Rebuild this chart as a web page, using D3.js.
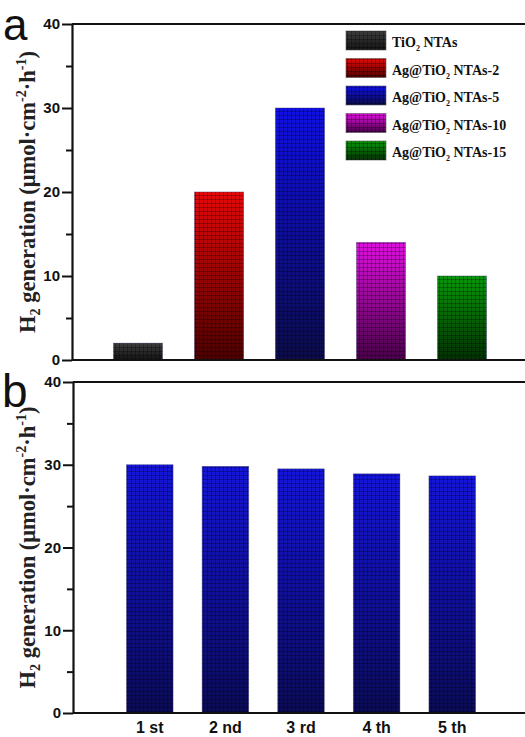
<!DOCTYPE html>
<html>
<head>
<meta charset="utf-8">
<script src="https://cdn.jsdelivr.net/npm/d3@7"></script>
<style>
  body { margin: 0; background: #fff; }
  svg { display: block; }
</style>
</head>
<body>
<div id="vis"></div>
<script>
// data
const SAMPLES = ["TiO2 NTAs", "Ag@TiO2 NTAs-2", "Ag@TiO2 NTAs-5", "Ag@TiO2 NTAs-10", "Ag@TiO2 NTAs-15"];
const SAMPLE_VALUES = [2, 20, 30, 14, 10];
const CYCLES = ["1 st", "2 nd", "3 rd", "4 th", "5 th"];
const CYCLE_VALUES = [30, 29.8, 29.5, 28.9, 28.65];
const MAJOR_TICKS = [0, 10, 20, 30, 40];
const MINOR_TICKS = [5, 15, 25, 35];

// gradient colours (top, bottom) for each sample
const SAMPLE_COLORS = [
  ["#3e3e3e", "#141414"],
  ["#e80808", "#4a0000"],
  ["#1010e6", "#0c0c48"],
  ["#e010e0", "#480048"],
  ["#089808", "#033003"]
];
const CYCLE_COLOR = ["#1515dc", "#0b0b55"];

const FRAME_WIDTH = 525;
const FRAME_HEIGHT = 737;

const SVG = d3.select("#vis")
  .append("svg")
  .attr("width", FRAME_WIDTH)
  .attr("height", FRAME_HEIGHT);

const DEFS = SVG.append("defs");

// fine mesh that sits on top of every bar
DEFS.append("pattern")
  .attr("id", "mesh")
  .attr("patternUnits", "userSpaceOnUse")
  .attr("width", 4)
  .attr("height", 4)
  .append("path")
  .attr("d", "M3.5 0 V4 M0 3.5 H4")
  .attr("stroke", "rgba(0,0,0,0.28)")
  .attr("stroke-width", 1);

function addGradient(id, pair) {
  const g = DEFS.append("linearGradient")
    .attr("id", id)
    .attr("x1", 0).attr("y1", 0)
    .attr("x2", 0).attr("y2", 1);
  g.append("stop").attr("offset", "0%").attr("stop-color", pair[0]);
  g.append("stop").attr("offset", "100%").attr("stop-color", pair[1]);
}
SAMPLE_COLORS.forEach((c, i) => addGradient("grad" + i, c));
addGradient("gradCycle", CYCLE_COLOR);

// draws one panel: y axis, frame lines, bars
function make_panel(opts) {
  const Y_SCALE = d3.scaleLinear()
    .domain([0, 40])
    .range([opts.bottom, opts.top]);

  const X_SCALE = d3.scaleBand()
    .domain(opts.cats)
    .range(opts.xRange)
    .paddingInner(opts.pad)
    .paddingOuter(opts.pad / 2);

  const G = SVG.append("g");

  // bars
  const bars = G.selectAll(".bar")
    .data(opts.values)
    .enter();

  bars.append("rect")
    .attr("x", (d, i) => X_SCALE(opts.cats[i]))
    .attr("y", (d) => Y_SCALE(d))
    .attr("width", X_SCALE.bandwidth())
    .attr("height", (d) => opts.bottom - Y_SCALE(d))
    .attr("fill", (d, i) => "url(#" + opts.grad(i) + ")")
    .attr("stroke", "rgba(60,60,110,0.55)")
    .attr("stroke-width", 0.8);

  bars.append("rect")
    .attr("x", (d, i) => X_SCALE(opts.cats[i]))
    .attr("y", (d) => Y_SCALE(d))
    .attr("width", X_SCALE.bandwidth())
    .attr("height", (d) => opts.bottom - Y_SCALE(d))
    .attr("fill", "url(#mesh)");

  // minor ticks
  G.append("g")
    .attr("transform", `translate(${opts.left},0)`)
    .call(d3.axisLeft(Y_SCALE).tickValues(MINOR_TICKS).tickSize(6).tickFormat(""))
    .call((a) => a.select(".domain").remove())
    .call((a) => a.selectAll("line").attr("stroke-width", 2).attr("stroke", "#111"));

  // major ticks + labels
  G.append("g")
    .attr("transform", `translate(${opts.left},0)`)
    .call(d3.axisLeft(Y_SCALE).tickValues(MAJOR_TICKS).tickSize(10).tickSizeOuter(0).tickPadding(2))
    .call((a) => a.select(".domain").attr("stroke-width", 2.2).attr("stroke", "#111"))
    .call((a) => a.selectAll("line").attr("stroke-width", 2).attr("stroke", "#111"))
    .call((a) => a.selectAll("text")
      .attr("font-family", "Liberation Sans, Arial, sans-serif")
      .attr("font-weight", "bold")
      .attr("font-size", 15)
      .attr("fill", "#111"));

  // top and bottom frame lines
  G.append("line")
    .attr("x1", opts.left).attr("x2", FRAME_WIDTH + 5)
    .attr("y1", opts.top).attr("y2", opts.top)
    .attr("stroke", "#111").attr("stroke-width", 2.2);
  G.append("line")
    .attr("x1", opts.left).attr("x2", FRAME_WIDTH + 5)
    .attr("y1", opts.bottom).attr("y2", opts.bottom)
    .attr("stroke", "#111").attr("stroke-width", 2.2);

  // y axis title, rotated
  const title = G.append("text")
    .attr("transform", `translate(${opts.titleX},${(opts.top + opts.bottom) / 2}) rotate(-90)`)
    .attr("text-anchor", "middle")
    .attr("font-family", "Liberation Serif, Times New Roman, serif")
    .attr("font-weight", "bold")
    .attr("font-size", 22.5)
    .attr("fill", "#222");
  title.append("tspan").text("H");
  title.append("tspan").attr("font-size", 14).attr("dy", 5).text("2");
  title.append("tspan").attr("dy", -5).text(" generation (\u03bcmol\u00b7cm");
  title.append("tspan").attr("font-size", 14).attr("dy", -9).text("-2");
  title.append("tspan").attr("dy", 9).text("\u00b7h");
  title.append("tspan").attr("font-size", 14).attr("dy", -9).text("-1");
  title.append("tspan").attr("dy", 9).text(")");

  // panel letter
  G.append("text")
    .attr("x", opts.letterX)
    .attr("y", opts.letterY)
    .attr("font-family", "Liberation Sans, Arial, sans-serif")
    .attr("font-size", opts.letterSize)
    .attr("fill", "#111")
    .text(opts.letter);

  return { X_SCALE, Y_SCALE, G };
}

// panel a: samples
const PANEL_A = make_panel({
  cats: SAMPLES, values: SAMPLE_VALUES,
  top: 24, bottom: 360, left: 72,
  xRange: [97.5, 502.5], pad: 0.395,
  grad: (i) => "grad" + i,
  titleX: 35, letter: "a", letterX: 3, letterY: 40, letterSize: 44
});

// panel b: recycling runs
const PANEL_B = make_panel({
  cats: CYCLES, values: CYCLE_VALUES,
  top: 382, bottom: 713, left: 73,
  xRange: [112, 490], pad: 0.385,
  grad: () => "gradCycle",
  titleX: 35, letter: "b", letterX: 2, letterY: 407, letterSize: 46
});

// cycle labels under panel b
SVG.append("g")
  .attr("transform", "translate(0,713)")
  .call(d3.axisBottom(PANEL_B.X_SCALE).tickSize(0).tickPadding(9))
  .call((a) => a.select(".domain").remove())
  .call((a) => a.selectAll("text")
    .attr("font-family", "Liberation Sans, Arial, sans-serif")
    .attr("font-weight", "bold")
    .attr("font-size", 16)
    .attr("fill", "#111"));

// legend for panel a
const LEGEND = SVG.append("g");
SAMPLES.forEach((name, i) => {
  const y = 47 + i * 27.5;
  LEGEND.append("rect")
    .attr("x", 346).attr("y", y - 16)
    .attr("width", 40).attr("height", 19)
    .attr("fill", "url(#grad" + i + ")")
    .attr("stroke", "rgba(90,90,90,0.6)")
    .attr("stroke-width", 1);
  LEGEND.append("rect")
    .attr("x", 346).attr("y", y - 16)
    .attr("width", 40).attr("height", 19)
    .attr("fill", "url(#mesh)");

  // split the name round the subscript 2 of TiO2
  const k = name.indexOf("TiO2") + 3;
  const t = LEGEND.append("text")
    .attr("x", 392).attr("y", y)
    .attr("font-family", "Liberation Serif, Times New Roman, serif")
    .attr("font-weight", "bold")
    .attr("font-size", 14)
    .attr("fill", "#111");
  t.append("tspan").text(name.slice(0, k));
  t.append("tspan").attr("font-size", 8).attr("dy", 4).text("2");
  t.append("tspan").attr("dy", -4).text(name.slice(k + 1));
});
</script>
</body>
</html>
